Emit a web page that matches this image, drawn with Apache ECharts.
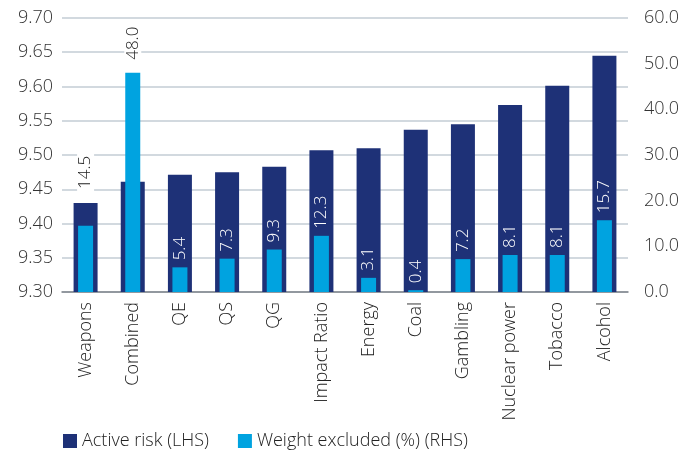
<!DOCTYPE html>
<html>
<head>
<meta charset="utf-8">
<script src="https://cdn.jsdelivr.net/npm/echarts@6/dist/echarts.min.js"></script>
<style>html,body{margin:0;padding:0;background:#fff}#c{width:686px;height:450px}</style>
</head>
<body>
<div id="c"></div>
<script>
const categories = ['Weapons','Combined','QE','QS','QG','Impact Ratio','Energy','Coal','Gambling','Nuclear power','Tobacco','Alcohol'];
const activeRisk = [9.430,9.461,9.471,9.475,9.483,9.507,9.510,9.537,9.545,9.573,9.601,9.645];
const weightExcluded = [14.5,48.0,5.4,7.3,9.3,12.3,3.1,0.4,7.2,8.1,8.1,15.7];
const leftTicks = {min:9.30,max:9.70,interval:0.05};
const rightTicks = {min:0,max:60,interval:10};

const FONT = '"Open Sans"';
const FW = 300;
const plotH = 450 - 18 - 158;
const labelLen = 36;
const lightData = weightExcluded.map((w,i)=>{
  const df = (activeRisk[i]-leftTicks.min)/(leftTicks.max-leftTicks.min);
  const lf = (w-rightTicks.min)/(rightTicks.max-rightTicks.min);
  const gapPx = (df-lf)*plotH;
  if (lf > df) {
    return {value:w,label:{color:'#222',backgroundColor:'#fff',padding:[0,4],distance:9}};
  } else if (gapPx < labelLen+8) {
    return {value:w,label:{color:'#222',backgroundColor:'#fff',padding:[0,4],distance:gapPx+10}};
  }
  return {value:w};
});

const chart = echarts.init(document.getElementById('c'));
chart.setOption({
  animation:false,
  textStyle:{fontFamily:FONT,fontWeight:FW},
  grid:{left:62,right:58,top:18,bottom:158},
  legend:{
    left:63, top:432, padding:0, itemWidth:14, itemHeight:14, itemGap:29, icon:'rect',
    textStyle:{fontFamily:FONT,fontWeight:FW,fontSize:18,color:'#222',padding:[0,0,0,0]},
    data:['Active risk (LHS)','Weight excluded (%) (RHS)']
  },
  xAxis:[
    {type:'category',data:categories,
     axisLine:{lineStyle:{color:'#7d838a',width:1.5}},axisTick:{show:false},
     axisLabel:{rotate:90,interval:0,fontSize:18,fontWeight:FW,color:'#222',margin:10,fontFamily:FONT}},
    {type:'category',data:categories,show:false}
  ],
  yAxis:[
    {type:'value',min:leftTicks.min,max:leftTicks.max,interval:leftTicks.interval,
     axisLine:{show:false},axisTick:{show:false},
     axisLabel:{fontSize:18,fontWeight:FW,color:'#333',margin:9,fontFamily:FONT,formatter:v=>v.toFixed(2)},
     splitLine:{lineStyle:{color:'#c3ccd4',width:1.5}}},
    {type:'value',min:rightTicks.min,max:rightTicks.max,interval:rightTicks.interval,
     axisLine:{show:false},axisTick:{show:false},
     axisLabel:{fontSize:18,fontWeight:FW,color:'#333',margin:16,fontFamily:FONT,formatter:v=>v.toFixed(1)},
     splitLine:{show:false}}
  ],
  series:[
    {name:'Active risk (LHS)',type:'bar',xAxisIndex:0,yAxisIndex:0,barWidth:24,
     itemStyle:{color:'#1e3177'},data:activeRisk},
    {name:'Weight excluded (%) (RHS)',type:'bar',xAxisIndex:1,yAxisIndex:1,barWidth:15,
     itemStyle:{color:'#00a3e0'},
     label:{show:true,position:'top',rotate:90,align:'left',verticalAlign:'middle',distance:7,
       color:'#fff',fontSize:17,fontWeight:FW,fontFamily:FONT,formatter:p=>p.value.toFixed(1)},
     data:lightData}
  ]
});
</script>
</body>
</html>
